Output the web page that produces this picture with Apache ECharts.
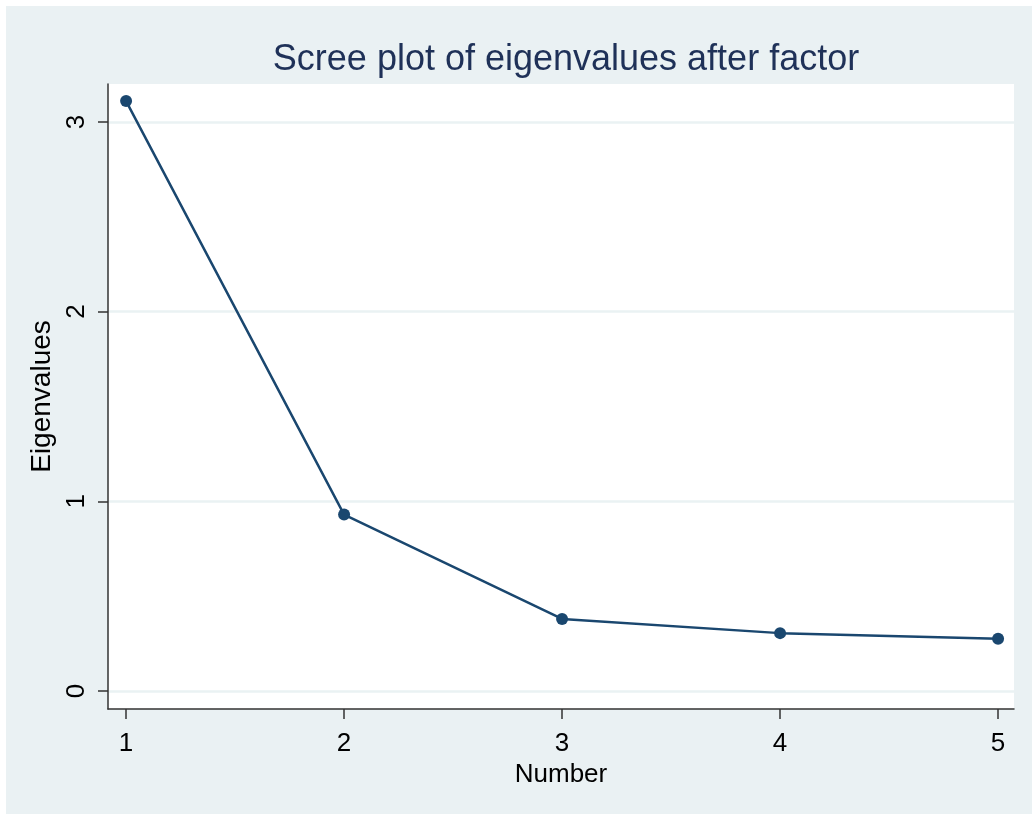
<!DOCTYPE html>
<html>
<head>
<meta charset="utf-8">
<script src="https://cdn.jsdelivr.net/npm/echarts@6/dist/echarts.min.js"></script>
<style>
html,body{margin:0;padding:0;background:#ffffff;}
#chart{width:1032px;height:814px;}
</style>
</head>
<body>
<div id="chart"></div>
<script>
// Data
const numbers = [1, 2, 3, 4, 5];
const eigenvalues = [3.11, 0.93, 0.38, 0.305, 0.275];
const xTicks = [1, 2, 3, 4, 5];
const yTicks = [0, 1, 2, 3];

const chart = echarts.init(document.getElementById('chart'));
const font = '"Liberation Sans", Arial, sans-serif';

const option = {
  backgroundColor: '#ffffff',
  animation: false,
  graphic: [{
    type: 'rect', left: 6, top: 6, z: -10,
    shape: { width: 1026, height: 808 },
    style: { fill: '#EAF1F3' }
  }],
  title: {
    text: 'Scree plot of eigenvalues after factor',
    left: 561, top: 37, textAlign: 'center',
    textStyle: { fontFamily: font, fontSize: 36, fontWeight: 'normal', color: '#1f3158' }
  },
  grid: {
    left: 108, right: 18, top: 84, bottom: 105,
    show: true, backgroundColor: '#ffffff', borderWidth: 0,
    containLabel: false
  },
  xAxis: {
    type: 'value', min: 0.917, max: 5.073,
    name: 'Number', nameLocation: 'middle', nameGap: 49,
    nameTextStyle: { fontFamily: font, fontSize: 26, color: '#000' },
    axisLine: { show: true, onZero: false, lineStyle: { color: '#333', width: 1.5 } },
    axisTick: { show: true, length: 10, customValues: xTicks, lineStyle: { color: '#333', width: 1.5 } },
    axisLabel: { customValues: xTicks, margin: 22, fontFamily: font, fontSize: 26, color: '#000' },
    splitLine: { show: false }
  },
  yAxis: {
    type: 'value', min: -0.095, max: 3.2,
    name: 'Eigenvalues', nameLocation: 'middle', nameGap: 42,
    nameTextStyle: { fontFamily: font, fontSize: 28, color: '#000' },
    axisLine: { show: true, onZero: false, lineStyle: { color: '#333', width: 1.5 } },
    axisTick: { show: true, length: 10, customValues: yTicks, lineStyle: { color: '#333', width: 1.5 } },
    axisLabel: { customValues: yTicks, rotate: 90, margin: 18, fontFamily: font, fontSize: 26, color: '#000' },
    splitLine: { show: true, lineStyle: { color: '#EAF2F3', width: 2.5 } }
  },
  series: [{
    type: 'line',
    data: numbers.map((n, i) => [n, eigenvalues[i]]),
    symbol: 'circle', symbolSize: 12,
    lineStyle: { color: '#1a476f', width: 2.5 },
    itemStyle: { color: '#1a476f' },
    z: 5
  }]
};
chart.setOption(option);
</script>
</body>
</html>
